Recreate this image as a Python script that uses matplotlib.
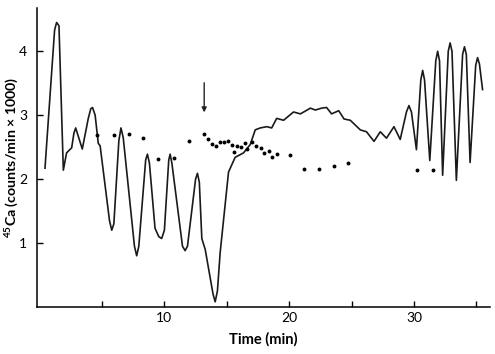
import numpy as np
import matplotlib
matplotlib.use("Agg")
import matplotlib.pyplot as plt

# trace (time in min, 45Ca counts/min x 1000)
trace_t = [0.43, 0.95, 1.2, 1.36, 1.55, 1.9, 2.16, 2.57, 2.75, 2.89, 3.05, 3.42,
           3.9, 4.1, 4.24, 4.45, 4.7, 4.85, 5.6, 5.78, 5.95, 6.35, 6.52, 6.7,
           7.6, 7.78, 7.95, 8.5, 8.64, 8.8, 9.25, 9.55, 9.78, 10.0, 10.35, 10.46,
           10.6, 11.45, 11.66, 11.85, 12.5, 12.65, 12.8, 13.0, 13.27, 13.9, 14.07,
           14.25, 14.47, 15.14, 15.67, 16.34, 16.88, 17.28, 17.68, 18.21, 18.6,
           19.0, 19.55, 20.35, 20.9, 21.7, 22.1, 22.6, 23.0, 23.4, 23.97, 24.4,
           24.9, 25.7, 26.2, 26.8, 27.3, 27.8, 28.4, 28.9, 29.4, 29.6, 29.8, 30.2,
           30.55, 30.7, 30.85, 31.27, 31.75, 31.9, 32.05, 32.3, 32.75, 32.9, 33.05,
           33.4, 33.9, 34.05, 34.2, 34.5, 34.95, 35.1, 35.25, 35.5]
trace_v = [2.17, 3.63, 4.33, 4.45, 4.4, 2.14, 2.41, 2.49, 2.72, 2.8, 2.7, 2.47,
           2.95, 3.1, 3.12, 3.0, 2.56, 2.52, 1.35, 1.2, 1.3, 2.6, 2.8, 2.65,
           0.95, 0.8, 0.95, 2.3, 2.39, 2.25, 1.23, 1.1, 1.07, 1.2, 2.3, 2.39,
           2.25, 0.95, 0.88, 0.95, 2.0, 2.09, 1.95, 1.07, 0.9, 0.2, 0.08,
           0.25, 0.85, 2.11, 2.34, 2.41, 2.54, 2.77, 2.8, 2.82, 2.8,
           2.95, 2.92, 3.05, 3.02, 3.11, 3.08, 3.11, 3.12, 3.02, 3.07, 2.94,
           2.92, 2.77, 2.74, 2.59, 2.74, 2.64, 2.82, 2.62, 3.05, 3.15, 3.05, 2.46,
           3.55, 3.7, 3.55, 2.29, 3.85, 4.0, 3.85, 2.06, 4.0, 4.13, 4.0,
           1.98, 3.95, 4.07, 3.95, 2.26, 3.78, 3.9, 3.8, 3.4]

# sampled points
dot_t = [4.62, 5.96, 7.17, 8.31, 9.46, 10.78, 11.98, 13.19, 13.53, 13.8, 14.15,
         14.42, 14.79, 15.09, 15.4, 15.54, 15.81, 16.13, 16.48, 16.66, 17.06,
         17.36, 17.73, 17.95, 18.35, 18.62, 19.02, 20.03, 21.16, 22.42, 23.56,
         24.69, 30.25, 31.5]
dot_v = [2.69, 2.69, 2.7, 2.64, 2.31, 2.33, 2.6, 2.71, 2.63, 2.55, 2.51,
         2.58, 2.58, 2.6, 2.53, 2.42, 2.51, 2.5, 2.56, 2.47, 2.58,
         2.51, 2.48, 2.41, 2.44, 2.35, 2.39, 2.38, 2.16, 2.15, 2.2,
         2.25, 2.14, 2.14]

arrow_t = 13.19
arrow_top = 3.55
arrow_tip = 3.0

plt.rcParams['font.family'] = ['Lato', 'DejaVu Sans']
plt.rcParams['mathtext.fontset'] = 'custom'
plt.rcParams['mathtext.bf'] = 'Lato:bold'
plt.rcParams['mathtext.rm'] = 'Lato'

fig = plt.figure(figsize=(4.95, 3.54), dpi=100)
ax = fig.add_axes([0.075, 0.133, 0.915, 0.845])

ax.plot(trace_t, trace_v, color='#1a1a1a', lw=1.2)
ax.plot(dot_t, dot_v, 'o', color='black', ms=2.8, mew=0)
ax.annotate('', xy=(arrow_t, arrow_tip), xytext=(arrow_t, arrow_top),
            arrowprops=dict(arrowstyle='-|>', color='#222222', lw=1.0,
                            mutation_scale=7))

ax.set_xlim(-0.2, 36.1)
ax.set_ylim(0, 4.68)
ax.set_xticks([10, 20, 30])
ax.set_xticks([5, 15, 25, 35], minor=True)
ax.set_yticks([1, 2, 3, 4])
ax.tick_params(which='both', direction='in', length=4, width=1, labelsize=10)
ax.tick_params(axis='y', pad=7)
for s in ['top', 'right']:
    ax.spines[s].set_visible(False)
for s in ['left', 'bottom']:
    ax.spines[s].set_linewidth(1.1)

ax.set_xlabel('Time (min)', fontsize=10.5, fontweight='bold', labelpad=6)
ax.set_ylabel(r'$^{\mathbf{45}}$Ca (counts/min $\mathbf{\times}$ 1000)', fontsize=10.2,
              fontweight='bold')
ax.yaxis.set_label_coords(-0.037, 0.5)

fig.savefig('out.png', dpi=100)
